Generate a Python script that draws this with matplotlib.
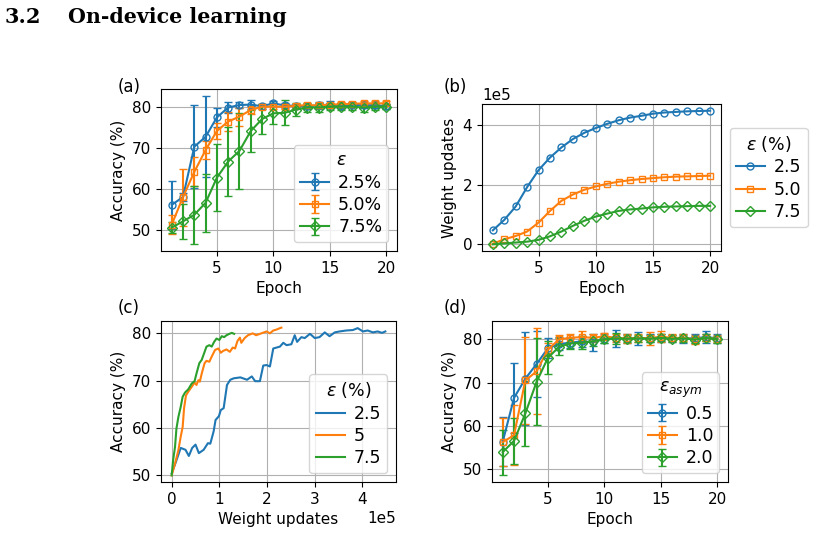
import numpy as np
import matplotlib
matplotlib.use("Agg")
import matplotlib.pyplot as plt

plt.rcParams["font.size"] = 11

# ── DATA ──────────────────────────────────────────────────────────────────────
epochs = np.arange(1, 21)

# (a) accuracy vs epoch for three epsilon values
eps_labels_a = ["2.5%", "5.0%", "7.5%"]
acc_a_25 = [56.2, 58.1, 70.3, 72.7, 77.4, 79.8, 80.4, 80.5, 80.1, 80.8,
            80.3, 80.2, 80.1, 80.3, 80.5, 80.2, 80.5, 80.3, 80.4, 80.1]
err_a_25 = [5.8, 1.0, 10.0, 9.8, 2.3, 1.3, 0.8, 1.0, 0.6, 0.6,
            0.6, 0.5, 0.6, 0.8, 0.8, 0.6, 0.6, 0.6, 0.6, 0.6]
acc_a_50 = [51.4, 58.1, 64.2, 69.5, 74.1, 76.4, 77.6, 79.2, 80.0, 80.0,
            80.0, 80.2, 80.4, 80.3, 80.5, 80.6, 80.7, 80.8, 80.8, 80.8]
err_a_50 = [2.3, 6.9, 3.5, 2.3, 2.0, 2.2, 2.2, 1.0, 0.6, 0.6,
            0.6, 0.5, 0.5, 0.5, 0.5, 0.5, 0.5, 0.5, 0.5, 0.5]
acc_a_75 = [50.7, 52.2, 53.8, 56.7, 62.8, 66.7, 69.3, 74.1, 77.0, 78.4,
            78.5, 79.3, 79.8, 79.8, 80.0, 80.0, 80.0, 79.8, 80.0, 80.0]
err_a_75 = [1.3, 4.3, 7.0, 7.0, 8.2, 8.3, 9.2, 5.0, 3.7, 2.6,
            3.0, 1.5, 1.0, 1.0, 0.8, 0.8, 0.8, 1.0, 0.8, 0.6]

# (b) cumulative weight updates vs epoch (units of 1e5)
eps_labels_b = ["2.5", "5.0", "7.5"]
wu_25 = [0.47, 0.82, 1.27, 1.92, 2.49, 2.91, 3.25, 3.53, 3.74, 3.90,
         4.04, 4.16, 4.25, 4.31, 4.38, 4.42, 4.44, 4.46, 4.47, 4.48]
wu_50 = [0.02, 0.17, 0.28, 0.43, 0.73, 1.12, 1.46, 1.67, 1.83, 1.94,
         2.03, 2.10, 2.15, 2.19, 2.22, 2.25, 2.27, 2.28, 2.29, 2.30]
wu_75 = [0.00, 0.03, 0.06, 0.09, 0.15, 0.27, 0.43, 0.62, 0.79, 0.93,
         1.03, 1.12, 1.17, 1.20, 1.24, 1.26, 1.27, 1.28, 1.29, 1.29]

# (c) accuracy vs weight updates (x in units of 1e5)
eps_labels_c = ["2.5", "5", "7.5"]
c_x_25 = [0.00, 0.08, 0.19, 0.29, 0.36, 0.43, 0.50, 0.57, 0.67, 0.76, 0.81,
          0.88, 0.92, 0.99, 1.03, 1.09, 1.16, 1.23, 1.30, 1.44, 1.58, 1.68,
          1.75, 1.85, 1.92, 1.99, 2.06, 2.13, 2.20, 2.27, 2.34, 2.41, 2.51,
          2.58, 2.63, 2.72, 2.79, 2.90, 3.00, 3.10, 3.21, 3.31, 3.42, 3.52,
          3.66, 3.80, 3.90, 4.01, 4.11, 4.22, 4.32, 4.41, 4.48]
c_y_25 = [50.4, 52.6, 55.8, 55.4, 54.1, 55.8, 56.5, 54.7, 55.4, 56.8, 56.7,
          59.3, 61.7, 62.5, 63.8, 64.2, 69.1, 70.2, 70.5, 70.7, 70.2, 70.9,
          69.9, 69.9, 73.2, 73.3, 73.0, 76.8, 77.0, 77.2, 78.0, 77.5, 77.7,
          79.6, 78.2, 79.2, 79.0, 79.9, 79.0, 79.2, 80.2, 79.4, 80.2, 80.4,
          80.6, 80.7, 81.1, 80.4, 80.6, 80.2, 80.4, 80.1, 80.4]
c_x_50 = [0.00, 0.07, 0.14, 0.19, 0.23, 0.26, 0.30, 0.35, 0.42, 0.48, 0.52,
          0.56, 0.59, 0.63, 0.69, 0.73, 0.79, 0.84, 0.91, 0.98, 1.03, 1.08,
          1.15, 1.22, 1.28, 1.33, 1.38, 1.43, 1.46, 1.53, 1.60, 1.70, 1.77,
          1.88, 1.99, 2.06, 2.13, 2.20, 2.27, 2.30]
c_y_50 = [50.0, 52.5, 55.3, 58.2, 60.2, 64.2, 66.9, 67.7, 68.7, 69.6, 69.1,
          70.1, 69.8, 71.5, 73.7, 74.2, 74.0, 75.1, 76.5, 76.8, 75.9, 76.3,
          76.6, 76.1, 77.0, 76.8, 78.4, 79.1, 78.0, 79.0, 79.6, 80.0, 79.6,
          80.0, 80.4, 80.0, 80.6, 80.8, 81.1, 81.2]
c_x_75 = [0.00, 0.03, 0.07, 0.10, 0.14, 0.19, 0.23, 0.28, 0.35, 0.42, 0.48,
          0.52, 0.58, 0.63, 0.68, 0.73, 0.79, 0.84, 0.89, 0.94, 1.00, 1.05,
          1.10, 1.15, 1.21, 1.26, 1.31]
c_y_75 = [50.0, 53.2, 56.0, 59.9, 62.3, 64.5, 66.6, 67.5, 68.2, 69.4, 69.9,
          71.5, 73.7, 74.4, 75.8, 77.2, 77.5, 77.2, 78.2, 78.9, 78.6, 79.4,
          79.2, 79.6, 79.9, 80.1, 79.9]

# (d) accuracy vs epoch for asymmetric epsilon
eps_labels_d = ["0.5", "1.0", "2.0"]
acc_d_05 = [56.4, 66.5, 70.9, 74.3, 77.9, 78.9, 79.2, 79.5, 79.3, 80.1,
            80.1, 80.2, 80.2, 80.3, 80.3, 80.2, 80.2, 80.2, 80.5, 80.2]
err_d_05 = [5.6, 8.0, 10.7, 7.7, 2.3, 1.5, 1.2, 1.2, 2.0, 1.0,
            2.0, 1.0, 1.5, 1.0, 1.0, 0.8, 1.0, 1.0, 1.3, 1.0]
acc_d_10 = [56.3, 57.9, 70.5, 72.6, 77.6, 80.0, 80.3, 80.5, 80.3, 80.7,
            80.3, 80.2, 80.3, 80.2, 80.6, 80.3, 80.3, 80.0, 80.3, 80.1]
err_d_10 = [5.6, 6.9, 10.1, 9.9, 1.5, 1.0, 1.0, 1.3, 1.0, 0.8,
            1.0, 1.0, 1.0, 1.5, 1.2, 0.8, 0.8, 1.0, 0.8, 0.8]
acc_d_20 = [54.0, 56.6, 62.9, 70.2, 75.7, 78.3, 79.0, 79.2, 79.5, 80.0,
            80.2, 80.1, 80.2, 80.1, 80.3, 80.1, 80.2, 79.9, 80.3, 80.0]
err_d_20 = [5.2, 5.3, 7.4, 10.0, 3.8, 2.0, 1.2, 1.5, 1.0, 0.8,
            1.2, 0.8, 0.8, 0.8, 0.8, 0.8, 0.8, 0.8, 0.8, 0.8]

# ── STYLE ─────────────────────────────────────────────────────────────────────
COLORS  = ["#1f77b4", "#ff7f0e", "#2ca02c"]
MARKERS = ["o", "s", "D"]
MS      = 5
LEG_KW  = dict(fontsize=12.5, title_fontsize=12.5, labelspacing=0.25,
               borderpad=0.35, handlelength=1.7, handletextpad=0.5)

fig = plt.figure(figsize=(8.29, 5.47), dpi=100)

fig.text(0.006, 0.958, "3.2", fontsize=15, fontweight="bold",
         family="DejaVu Serif")
fig.text(0.082, 0.958, "On-device learning", fontsize=14.8, fontweight="bold",
         family="DejaVu Serif")

ax_a = fig.add_axes([0.1942, 0.5411, 0.2847, 0.2962])
ax_b = fig.add_axes([0.5814, 0.5411, 0.2883, 0.2687])
ax_c = fig.add_axes([0.1942, 0.1188, 0.2835, 0.2943])
ax_d = fig.add_axes([0.5935, 0.1188, 0.2847, 0.2943])


def err_panel(ax, ys, errs, labels, title):
    for y, e, lab, c, m in zip(ys, errs, labels, COLORS, MARKERS):
        ax.errorbar(epochs, y, yerr=e, color=c, marker=m, ms=MS,
                    mfc="none", capsize=3, label=lab)
    ax.set_xlabel("Epoch")
    ax.set_ylabel("Accuracy (%)")
    ax.set_xticks([5, 10, 15, 20])
    ax.set_yticks([50, 60, 70, 80])
    ax.grid(True)
    ax.legend(title=title, loc="lower right", **LEG_KW)


# (a)
err_panel(ax_a, [acc_a_25, acc_a_50, acc_a_75],
          [err_a_25, err_a_50, err_a_75], eps_labels_a, r"$\epsilon$")

# (b)
for y, lab, c, m in zip([wu_25, wu_50, wu_75], eps_labels_b, COLORS, MARKERS):
    ax_b.plot(epochs, np.array(y) * 1e5, color=c, marker=m, ms=MS,
              mfc="none", label=lab)
ax_b.set_xlabel("Epoch")
ax_b.set_ylabel("Weight updates")
ax_b.set_xticks([5, 10, 15, 20])
ax_b.set_yticks([0, 2e5, 4e5])
ax_b.ticklabel_format(axis="y", style="sci", scilimits=(0, 0))
ax_b.grid(True)
ax_b.legend(title=r"$\epsilon$ (%)", loc="center left",
            bbox_to_anchor=(1.0, 0.5), **LEG_KW)

# (c)
for xs, ys, lab, c in zip([c_x_25, c_x_50, c_x_75], [c_y_25, c_y_50, c_y_75],
                          eps_labels_c, COLORS):
    ax_c.plot(np.array(xs) * 1e5, ys, color=c, label=lab)
ax_c.set_xlabel("Weight updates")
ax_c.set_ylabel("Accuracy (%)")
ax_c.set_yticks([50, 60, 70, 80])
ax_c.set_ylim(48.6, 82.6)
ax_c.ticklabel_format(axis="x", style="sci", scilimits=(0, 0))
ax_c.grid(True)
ax_c.legend(title=r"$\epsilon$ (%)", loc="lower right", **LEG_KW)

# (d)
err_panel(ax_d, [acc_d_05, acc_d_10, acc_d_20],
          [err_d_05, err_d_10, err_d_20], eps_labels_d, r"$\epsilon_{asym}$")

for lab, x, y in [("(a)", 0.142, 0.832), ("(b)", 0.535, 0.832),
                  ("(c)", 0.142, 0.427), ("(d)", 0.535, 0.427)]:
    fig.text(x, y, lab, fontsize=12)

fig.savefig("out.png", dpi=100)
